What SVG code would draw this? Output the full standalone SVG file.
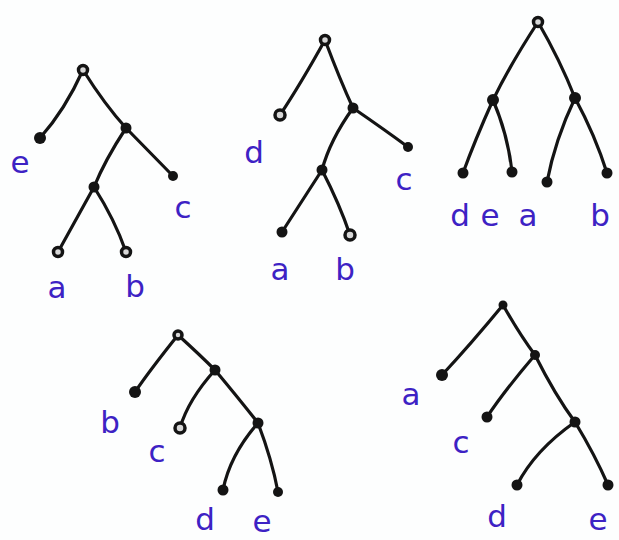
<svg xmlns="http://www.w3.org/2000/svg" width="619" height="540" viewBox="0 0 619 540">
<style>
.e{fill:none;stroke:#141414;stroke-width:3.2;stroke-linecap:round}
.n{fill:#141414}
.o{fill:#d8d8d8;stroke:#141414;stroke-width:3.5}
.t{font-family:"DejaVu Sans",sans-serif;font-size:31px;fill:#3d22c4;text-anchor:middle}
</style>
<rect width="619" height="540" fill="#fdfefe"/>
<g id="connectors">
<path class="e" d="M83,70 Q65,110 40,138"/><path class="e" d="M83,70 Q105,105 126,128"/>
<path class="e" d="M126,128 L173,176"/><path class="e" d="M126,128 Q105,160 94,187"/>
<path class="e" d="M94,187 L58,252"/><path class="e" d="M94,187 Q115,220 126,252"/>
<path class="e" d="M325,40 Q300,85 280,115"/><path class="e" d="M325,40 Q340,80 353,108"/>
<path class="e" d="M353,108 Q385,130 408,147"/><path class="e" d="M353,108 Q330,140 322,170"/>
<path class="e" d="M322,170 L282,232"/><path class="e" d="M322,170 Q340,205 350,235"/>
<path class="e" d="M538,22 Q510,65 493,100"/><path class="e" d="M538,22 Q560,60 575,98"/>
<path class="e" d="M493,100 Q475,140 463,173"/><path class="e" d="M493,100 Q508,135 512,172"/>
<path class="e" d="M575,98 Q555,140 547,182"/><path class="e" d="M575,98 Q595,135 607,173"/>
<path class="e" d="M178,335 Q150,370 135,392"/><path class="e" d="M178,335 Q200,355 215,370"/>
<path class="e" d="M215,370 Q188,400 180,428"/><path class="e" d="M215,370 Q240,400 258,423"/>
<path class="e" d="M258,423 Q230,455 223,490"/><path class="e" d="M258,423 Q272,460 278,492"/>
<path class="e" d="M503,305 Q470,345 442,375"/><path class="e" d="M503,305 Q520,335 535,355"/>
<path class="e" d="M535,355 Q505,390 487,417"/><path class="e" d="M535,355 Q555,395 575,422"/>
<path class="e" d="M575,422 Q535,450 517,485"/><path class="e" d="M575,422 Q595,455 608,485"/>
</g>
<g id="tree1">
<circle class="o" cx="83" cy="70" r="4.5"/><circle class="n" cx="40" cy="138" r="6"/>
<circle class="n" cx="126" cy="128" r="5.5"/><circle class="n" cx="173" cy="176" r="5"/>
<circle class="n" cx="94" cy="187" r="5.5"/><circle class="o" cx="58" cy="252" r="4.5"/>
<circle class="o" cx="126" cy="252" r="4.5"/>
<text class="t" x="20" y="173">e</text><text class="t" x="183" y="218">c</text>
<text class="t" x="57" y="298">a</text><text class="t" x="135" y="297">b</text>
</g>
<g id="tree2">
<circle class="o" cx="325" cy="40" r="4.5"/><circle class="o" cx="280" cy="115" r="5"/>
<circle class="n" cx="353" cy="108" r="5.5"/><circle class="n" cx="408" cy="147" r="5"/>
<circle class="n" cx="322" cy="170" r="5.5"/><circle class="n" cx="282" cy="232" r="5.5"/>
<circle class="o" cx="350" cy="235" r="5"/>
<text class="t" x="254" y="163">d</text><text class="t" x="404" y="190">c</text>
<text class="t" x="280" y="280">a</text><text class="t" x="345" y="280">b</text>
</g>
<g id="tree3">
<circle class="o" cx="538" cy="22" r="4.5"/><circle class="n" cx="493" cy="100" r="6"/>
<circle class="n" cx="575" cy="98" r="6"/><circle class="n" cx="463" cy="173" r="5.5"/>
<circle class="n" cx="512" cy="172" r="5.5"/><circle class="n" cx="547" cy="182" r="5.5"/>
<circle class="n" cx="607" cy="173" r="5.5"/>
<text class="t" x="460" y="226">d</text><text class="t" x="490" y="226">e</text>
<text class="t" x="528" y="226">a</text><text class="t" x="600" y="226">b</text>
</g>
<g id="tree4">
<circle class="o" cx="178" cy="335" r="4"/><circle class="n" cx="135" cy="392" r="6"/>
<circle class="n" cx="215" cy="370" r="5.5"/><circle class="o" cx="180" cy="428" r="5"/>
<circle class="n" cx="258" cy="423" r="5.5"/><circle class="n" cx="223" cy="490" r="5.5"/>
<circle class="n" cx="278" cy="492" r="5"/>
<text class="t" x="110" y="433">b</text><text class="t" x="157" y="462">c</text>
<text class="t" x="205" y="530">d</text><text class="t" x="262" y="532">e</text>
</g>
<g id="tree5">
<circle class="n" cx="503" cy="305" r="4.5"/><circle class="n" cx="442" cy="375" r="6"/>
<circle class="n" cx="535" cy="355" r="5"/><circle class="n" cx="487" cy="417" r="5.5"/>
<circle class="n" cx="575" cy="422" r="5.5"/><circle class="n" cx="517" cy="485" r="5.5"/>
<circle class="n" cx="608" cy="485" r="5.5"/>
<text class="t" x="411" y="405">a</text><text class="t" x="461" y="453">c</text>
<text class="t" x="497" y="527">d</text><text class="t" x="598" y="530">e</text>
</g>
</svg>
